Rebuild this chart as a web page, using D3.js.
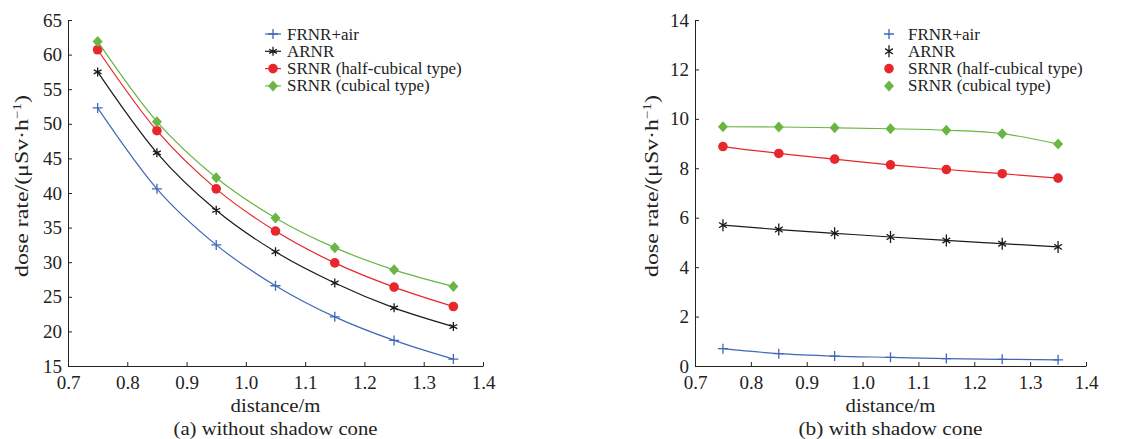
<!DOCTYPE html>
<html>
<head>
<meta charset="utf-8">
<script src="https://cdn.jsdelivr.net/npm/d3@7"></script>
<style>
  body { margin: 0; background: #fff; }
  svg { font-family: "Liberation Serif", "Times New Roman", serif; }
</style>
</head>
<body>
<svg id="chart" width="1137" height="439"></svg>
<script>
// ---- data ----
const distance = [0.75, 0.85, 0.95, 1.05, 1.15, 1.25, 1.35];
const seriesNames = ["FRNR+air", "ARNR", "SRNR (half-cubical type)", "SRNR (cubical type)"];

// (a) without shadow cone
const noConeFRNR  = [52.3, 40.6, 32.5, 26.6, 22.1, 18.7, 16.0];
const noConeARNR  = [57.5, 45.8, 37.5, 31.5, 27.0, 23.4, 20.7];
const noConeHalf  = [60.7, 49.0, 40.6, 34.5, 29.9, 26.4, 23.6];
const noConeCubic = [61.9, 50.3, 42.2, 36.4, 32.1, 28.9, 26.5];

// (b) with shadow cone
const coneFRNR  = [0.70, 0.50, 0.40, 0.35, 0.30, 0.27, 0.25];
const coneARNR  = [5.70, 5.52, 5.37, 5.22, 5.08, 4.95, 4.82];
const coneHalf  = [8.88, 8.60, 8.37, 8.14, 7.95, 7.78, 7.60];
const coneCubic = [9.68, 9.67, 9.64, 9.60, 9.54, 9.40, 8.98];

const xTicks = [0.7, 0.8, 0.9, 1.0, 1.1, 1.2, 1.3, 1.4];
const yTicksA = [15, 20, 25, 30, 35, 40, 45, 50, 55, 60, 65];
const yTicksB = [0, 2, 4, 6, 8, 10, 12, 14];

// ---- styles ----
const colors = ["#3f68b6", "#1a1a1a", "#e8262b", "#6ab544"];
const markers = ["plus", "star", "circle", "diamond"];

const svg = d3.select("#chart");

function drawMarker(g, type, x, y, color, tall) {
  if (type === "plus") {
    const s = 5;
    g.append("path").attr("d", `M${x - s},${y}H${x + s}M${x},${y - s}V${y + s}`)
      .attr("stroke", color).attr("stroke-width", 1.3).attr("fill", "none");
  } else if (type === "star") {
    const s = 4.5, sy = tall ? 6 : 4.5;
    let d = `M${x},${y - sy}V${y + sy}`;
    [30, 150].forEach(a => {
      const r = a * Math.PI / 180;
      const dx = s * Math.cos(r), dy = sy * Math.sin(r) * 0.9;
      d += `M${x - dx},${y - dy}L${x + dx},${y + dy}M${x - dx},${y + dy}L${x + dx},${y - dy}`;
    });
    g.append("path").attr("d", d).attr("stroke", color).attr("stroke-width", 1.3).attr("fill", "none");
  } else if (type === "circle") {
    g.append("circle").attr("cx", x).attr("cy", y).attr("r", 4.8).attr("fill", color);
  } else {
    g.append("path").attr("d", `M${x},${y - 5.5}L${x + 5},${y}L${x},${y + 5.5}L${x - 5},${y}Z`)
      .attr("fill", color);
  }
}

function drawPanel(cfg) {
  const x = d3.scaleLinear().domain([0.7, 1.4]).range([cfg.left, cfg.right]);
  const y = d3.scaleLinear().domain(cfg.yDomain).range([366, 20]);
  const g = svg.append("g");

  // axes, ticks point inward
  g.append("g").attr("transform", "translate(0,366)")
    .call(d3.axisBottom(x).tickValues(xTicks).tickFormat(d3.format(".1f")).tickSizeInner(-4).tickSizeOuter(0).tickPadding(10))
    .call(a => a.select(".domain").attr("stroke", "#222"))
    .call(a => a.selectAll("line").attr("stroke", "#222"))
    .call(a => a.selectAll("text").attr("font-size", 19).attr("fill", "#222").attr("font-family", "Liberation Serif"));

  g.append("g").attr("transform", `translate(${cfg.left},0)`)
    .call(d3.axisLeft(y).tickValues(cfg.yTicks).tickFormat(d3.format("d")).tickSizeInner(-4).tickSizeOuter(0).tickPadding(6))
    .call(a => a.select(".domain").attr("stroke", "#222"))
    .call(a => a.selectAll("line").attr("stroke", "#222"))
    .call(a => a.selectAll("text").attr("font-size", 19).attr("fill", "#222").attr("font-family", "Liberation Serif"));

  const line = d3.line().x((d, i) => x(distance[i])).y(d => y(d)).curve(d3.curveMonotoneX);

  cfg.series.forEach((vals, k) => {
    g.append("path").datum(vals).attr("d", line)
      .attr("fill", "none").attr("stroke", colors[k]).attr("stroke-width", 1.2);
    vals.forEach((v, i) => drawMarker(g, markers[k], x(distance[i]), y(v), colors[k], cfg.tallStar));
  });

  // legend
  seriesNames.forEach((name, k) => {
    const ly = 34 + k * 17.3;
    if (cfg.legendLines) {
      g.append("line").attr("x1", cfg.legendX - 8).attr("x2", cfg.legendX + 8)
        .attr("y1", ly).attr("y2", ly).attr("stroke", colors[k]).attr("stroke-width", 1.2);
    }
    drawMarker(g, markers[k], cfg.legendX, ly, colors[k], cfg.tallStar);
    g.append("text").attr("x", cfg.legendTextX).attr("y", ly + 5.5)
      .attr("font-size", 17).attr("fill", "#222").text(name);
  });

  // labels (stretched a bit wider, like the reference's typeface)
  const cx = (cfg.left + cfg.right) / 2;
  g.append("text").attr("x", cx).attr("y", 412).attr("text-anchor", "middle")
    .attr("font-size", 19).attr("fill", "#222")
    .attr("textLength", 90).attr("lengthAdjust", "spacingAndGlyphs").text("distance/m");
  g.append("text").attr("x", cx).attr("y", 435).attr("text-anchor", "middle")
    .attr("font-size", 19).attr("fill", "#222")
    .attr("textLength", cfg.captionLen).attr("lengthAdjust", "spacingAndGlyphs").text(cfg.caption);

  const yl = g.append("text").attr("transform", `translate(${cfg.yLabelX},186) rotate(-90)`)
    .attr("text-anchor", "middle").attr("font-size", 19).attr("fill", "#222")
    .attr("textLength", 182).attr("lengthAdjust", "spacingAndGlyphs");
  yl.append("tspan").text("dose rate/(μSv·h");
  yl.append("tspan").attr("dy", -7).attr("font-size", 12).text("−1");
  yl.append("tspan").attr("dy", 7).text(")");
}

drawPanel({
  left: 68, right: 483, yDomain: [15, 65], yTicks: yTicksA,
  series: [noConeFRNR, noConeARNR, noConeHalf, noConeCubic],
  legendX: 273, legendTextX: 287, legendLines: true, tallStar: false,
  caption: "(a) without shadow cone", captionLen: 204, yLabelX: 28
});

drawPanel({
  left: 695, right: 1086, yDomain: [0, 14], yTicks: yTicksB,
  series: [coneFRNR, coneARNR, coneHalf, coneCubic],
  legendX: 889, legendTextX: 908, legendLines: false, tallStar: true,
  caption: "(b) with shadow cone", captionLen: 184, yLabelX: 658
});
</script>
</body>
</html>
